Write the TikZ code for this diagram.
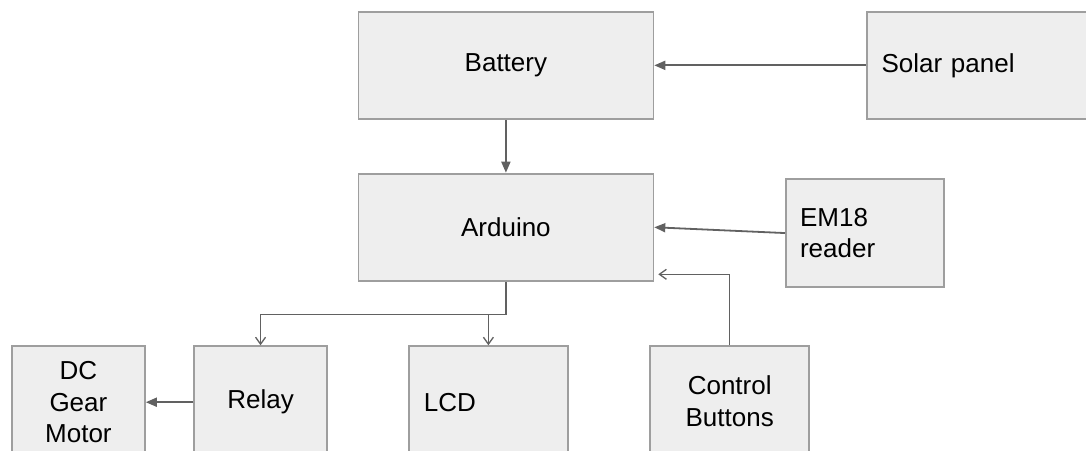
\documentclass[tikz,border=0pt]{standalone}
\usepackage{fontspec}
\setmainfont{Liberation Sans}
\usetikzlibrary{arrows.meta,calc}
\definecolor{boxfill}{HTML}{EEEEEE}
\definecolor{boxline}{HTML}{9E9E9E}
\definecolor{conn}{HTML}{616161}
\begin{document}
\begin{tikzpicture}[x=1pt,y=-1pt,
  blk/.style={draw=boxline, line width=1.8pt, fill=boxfill, inner sep=0pt,
    font=\fontsize{26}{31.5}\selectfont, anchor=north west, align=center},
  solidarr/.style={draw=conn, line width=1.8pt, -{Triangle[length=11pt,width=9pt]}},
  openarr/.style={draw=conn, line width=1.3pt, -{Straight Barb[length=7pt,width=10pt]}},
]
\useasboundingbox (0,0) rectangle (1086,450);
\node[blk, minimum width=295pt, minimum height=107.5pt] (bat) at (357.5,10.7) {Battery};
\node[blk, minimum width=260pt, minimum height=107.5pt, inner xsep=15pt, text width=230pt, align=left] (sol) at (865.7,10.7) {Solar panel};
\node[blk, minimum width=295pt, minimum height=107.3pt] (ard) at (357.5,172.7) {Arduino};
\node[blk, minimum width=158.3pt, minimum height=107.7pt, inner xsep=14pt, text width=130pt, align=left] (em) at (785,178.3) {EM18\\reader};
\node[blk, minimum width=133pt, minimum height=112pt] (dc) at (11,345.3) {DC\\Gear\\Motor};
\node[blk, minimum width=132.7pt, minimum height=112pt] (rel) at (193.3,345.3) {Relay};
\node[blk, minimum width=159pt, minimum height=112pt, inner xsep=15pt, text width=129pt, align=left] (lcd) at (408,345.3) {LCD};
\node[blk, minimum width=159pt, minimum height=110pt] (cb) at (649.3,345.3) {Control\\Buttons};

\draw[solidarr] (sol.west) -- (bat.east);
\draw[solidarr] (bat.south) -- (ard.north);
\draw[solidarr] (em.west) -- (ard.east);
\draw[solidarr] (rel.west) -- (dc.east);
\coordinate (split) at ($(ard.south)+(0,32.7)$);
\draw[openarr] (ard.south) -- (split) -| (rel.north);
\draw[openarr] (split) -| (lcd.north);
\coordinate (cbend) at (658.3,274.3);
\draw[openarr] (cb.north) |- (cbend);
\end{tikzpicture}
\end{document}
